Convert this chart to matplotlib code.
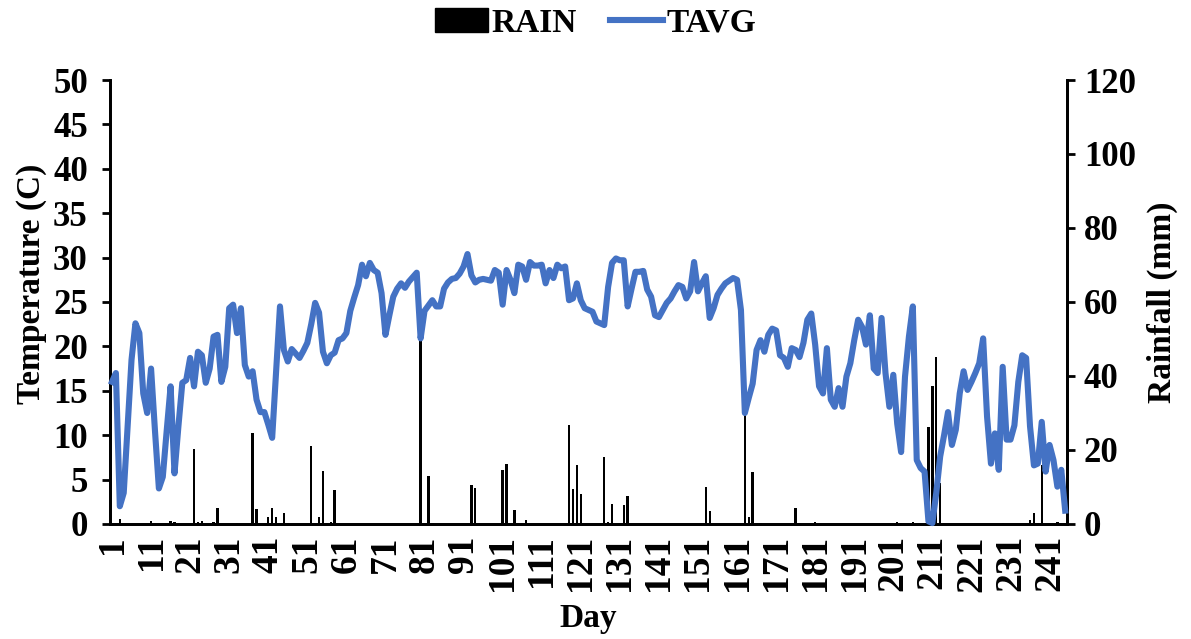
import numpy as np
import matplotlib
matplotlib.use('Agg')
import matplotlib.pyplot as plt
from matplotlib.patches import Patch
from matplotlib.lines import Line2D

# daily mean temperature (C), day 1 .. 245
tavg = [
    16, 17, 2, 3.5, 11, 18.5, 22.6, 21.5, 14.7, 12.5,
    17.5, 10.5, 4, 5.3, 10.5, 15.5, 5.7, 11, 15.9, 16.2,
    18.7, 15.5, 19.4, 19, 15.9, 17.5, 21.1, 21.3, 16, 17.7,
    24.3, 24.7, 21.5, 24.3, 17.9, 16.6, 17.2, 14, 12.6, 12.6,
    11.2, 9.7, 17, 24.5, 19.6, 18.3, 19.7, 19.2, 18.7, 19.5,
    20.4, 22.5, 24.9, 23.8, 19.4, 18.1, 19, 19.3, 20.7, 20.9,
    21.5, 24, 25.5, 26.9, 29.2, 27.9, 29.4, 28.6, 28.3, 26,
    21.3, 23.5, 25.6, 26.5, 27.1, 26.6, 27.3, 27.8, 28.3, 20.9,
    24, 24.6, 25.2, 24.5, 24.5, 26.5, 27.2, 27.6, 27.7, 28.2,
    29, 30.4, 28, 27.2, 27.5, 27.6, 27.5, 27.4, 28.6, 28.3,
    24.7, 28.6, 27.5, 26, 29.2, 29, 27.5, 29.5, 29.1, 29.1,
    29.2, 27.1, 28.6, 27.7, 29.2, 28.8, 29, 25.2, 25.4, 27.1,
    25.2, 24.3, 24.1, 23.9, 22.8, 22.6, 22.4, 26.7, 29.4, 29.9,
    29.7, 29.7, 24.5, 26.5, 28.4, 28.4, 28.5, 26.4, 25.6, 23.5,
    23.3, 24.1, 24.9, 25.4, 26.2, 26.9, 26.7, 25.4, 26.2, 29.5,
    26.2, 27.1, 27.9, 23.2, 24.3, 25.8, 26.5, 27.1, 27.4, 27.7,
    27.5, 24.1, 12.5, 14.2, 15.8, 19.6, 20.7, 19.4, 21.3, 22,
    21.8, 19, 18.7, 17.7, 19.8, 19.6, 18.8, 20.4, 23, 23.7,
    20.2, 15.5, 14.7, 19.8, 14, 13.2, 15.3, 13.2, 16.6, 18.1,
    20.7, 23, 22.2, 20.2, 23.5, 17.5, 17, 23.2, 17, 13.2,
    16.8, 11.3, 8.1, 16.6, 21.1, 24.5, 7.2, 6.3, 5.9, 0.3,
    0.1, 3.5, 7.6, 10, 12.6, 8.9, 10.6, 14.7, 17.2, 15.1,
    16, 17, 18.1, 20.9, 12.1, 6.8, 10.2, 6.1, 17.7, 9.5,
    9.5, 11.1, 16, 19, 18.7, 11, 6.6, 6.8, 11.5, 5.9,
    8.9, 7.2, 4.2, 6.1, 1.5,
]

# rainy days and rainfall (mm)
rain_days = [3, 11, 12, 16, 17, 22, 23, 24, 27, 28,
             33, 37, 38, 41, 42, 43, 45, 46, 52, 54,
             55, 56, 57, 58, 80, 82, 83, 93, 94, 95,
             101, 102, 104, 105, 106, 107, 118, 119, 120, 121,
             127, 128, 129, 132, 133, 153, 154, 163, 164, 165,
             166, 167, 176, 177, 181, 202, 203, 206, 210, 211,
             212, 213, 214, 229, 236, 237, 238, 239, 243, 244]
rain_mm = [1.3, 0.9, 0.3, 0.7, 0.5, 20.3, 0.5, 0.8, 0.5, 4.2,
           0.3, 24.7, 4.0, 1.8, 4.3, 1.8, 3.0, 0.3, 21.0, 2.0,
           14.2, 0.3, 0.5, 9.2, 51.0, 13.0, 0.3, 10.5, 9.6, 0.3,
           14.6, 16.2, 3.8, 0.3, 0.3, 1.0, 26.8, 9.4, 16.0, 8.1,
           18.0, 0.5, 5.4, 5.1, 7.6, 10.0, 3.6, 30.0, 1.8, 14.0,
           0.3, 0.3, 4.2, 0.3, 0.5, 0.6, 0.3, 0.5, 26.3, 37.4,
           45.0, 11.0, 0.3, 0.3, 1.0, 3.0, 0.3, 16.0, 0.5, 0.3]

BLUE = '#4472C4'

plt.rcParams['font.family'] = ['Liberation Serif', 'DejaVu Serif']
plt.rcParams['font.weight'] = 'bold'
plt.rcParams['axes.labelweight'] = 'bold'
plt.rcParams['font.size'] = 24


def plotWeather():
    days = np.arange(1, len(tavg) + 1)

    fig = plt.figure(figsize=(11.91, 6.39), dpi=100)
    ax = fig.add_axes([0.0924, 0.18, 0.8036, 0.6948])
    ax2 = ax.twinx()

    # rain bars on the right axis, temperature line on top
    ax2.bar(rain_days, rain_mm, width=0.6, color='black', zorder=1)
    ax.plot(days, tavg, color=BLUE, linewidth=4.4, clip_on=False,
            solid_joinstyle='round', zorder=3)
    ax.set_zorder(ax2.get_zorder() + 1)
    ax.patch.set_visible(False)

    ax.set_xlim(0.5, len(tavg) + 0.5)
    ax.set_ylim(0, 50)
    ax2.set_ylim(0, 120)
    ax.set_yticks(range(0, 51, 5))
    ax2.set_yticks(range(0, 121, 20))
    ax.set_xticks(range(1, len(tavg) + 1, 10))
    ax.set_xticklabels([str(d) for d in range(1, len(tavg) + 1, 10)],
                       rotation=90)

    for a in (ax, ax2):
        a.spines['top'].set_visible(False)
        for s in ('left', 'right', 'bottom'):
            a.spines[s].set_linewidth(2)
    ax.tick_params(axis='x', length=0, pad=8, labelsize=27)
    ax.tick_params(axis='y', direction='out', length=6, width=2, pad=10,
                   labelsize=25)
    ax2.tick_params(axis='y', direction='out', length=6, width=2, pad=6,
                    labelsize=25)

    ax.set_xlabel('Day', labelpad=8)
    ax.set_ylabel('Temperature (C)', labelpad=8)
    ax.yaxis.set_label_coords(-0.066, 0.54)
    ax2.set_ylabel('Rainfall (mm)', labelpad=8)

    handles = [Patch(facecolor='black', edgecolor='black'),
               Line2D([0], [0], color=BLUE, linewidth=4.4)]
    fig.legend(handles, ['RAIN', 'TAVG'], loc='upper center',
               bbox_to_anchor=(0.5, 1.035), ncol=2, frameon=False,
               handlelength=1.6, handletextpad=0.1, columnspacing=1.0)

    fig.savefig('out.png', dpi=100)


if __name__ == "__main__":
    plotWeather()
